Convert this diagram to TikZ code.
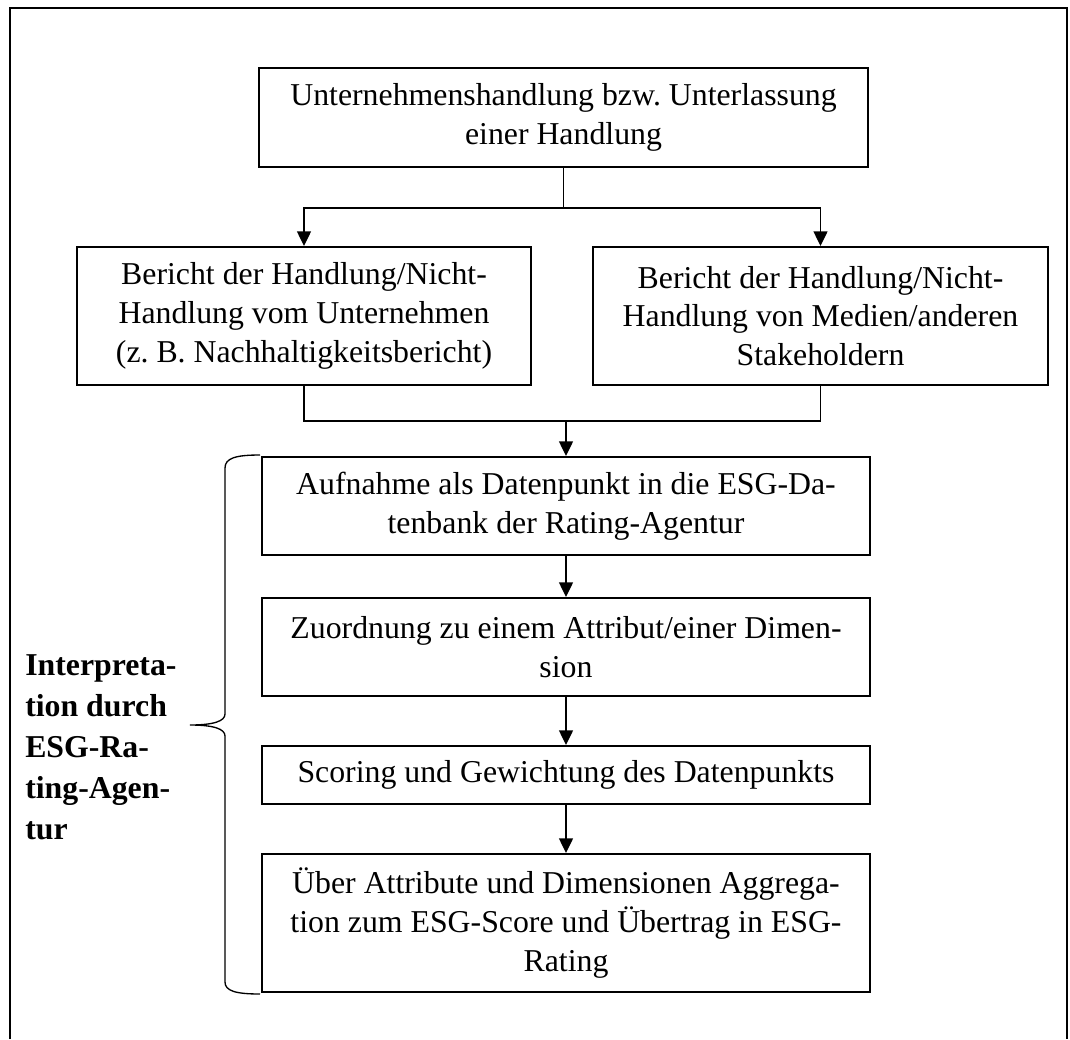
\documentclass[tikz,border=0pt]{standalone}
\usepackage{fontspec}
\setmainfont{Liberation Serif}
\usetikzlibrary{arrows.meta}
\begin{document}
\begin{tikzpicture}[x=0.75pt,y=-0.75pt,
  box/.style={draw, line width=1.5pt, inner sep=0pt, align=center,
    font=\fontsize{23.85}{29}\selectfont\frenchspacing},
  conn/.style={line width=1pt},
  arr/.style={conn, -{Triangle[width=10.5pt,length=11pt]}},
  bracestyle/.style={line width=1pt},
  framestyle/.style={line width=2pt}
]
\useasboundingbox (0,0) rectangle (1070,1039);
\draw[framestyle] (10,1039) -- (10,8) -- (1067,8) -- (1067,1039);

\node[box, minimum width=456.75pt, minimum height=74.25pt] (b1) at (563.5,117.5)
  {Unternehmenshandlung bzw. Unterlassung\\einer Handlung};
\node[box, minimum width=340.5pt, minimum height=103.5pt] (bl) at (304,316)
  {Bericht der Handlung/Nicht-\\Handlung vom Unternehmen\\(z. B. Nachhaltigkeitsbericht)};
\node[box, minimum width=341.25pt, minimum height=103.5pt] (br) at (820.5,316)
  {Bericht der Handlung/Nicht-\\Handlung von Medien/anderen\\Stakeholdern};
\node[box, minimum width=456pt, minimum height=73.5pt] (a1) at (566,506)
  {Aufnahme als Datenpunkt in die ESG-Da-\\tenbank der Rating-Agentur};
\node[box, minimum width=456pt, minimum height=73.5pt] (a2) at (566,647)
  {Zuordnung zu einem Attribut/einer Dimen-\\sion};
\node[box, minimum width=456pt, minimum height=43.5pt] (a3) at (566,775)
  {Scoring und Gewichtung des Datenpunkts};
\node[box, minimum width=456pt, minimum height=103.5pt] (a4) at (566,923)
  {Über Attribute und Dimensionen Aggrega-\\tion zum ESG-Score und Übertrag in ESG-\\Rating};

\coordinate (split) at (563.5,208);
\draw[conn] (b1.south) -- (split);
\draw[arr] (split) -| (bl.north);
\draw[arr] (split) -| (br.north);
\coordinate (join) at (566,421);
\draw[conn] (bl.south) |- (join);
\draw[conn] (br.south) |- (join);
\draw[arr] (join) -- (a1.north);
\draw[arr] (a1) -- (a2);
\draw[arr] (a2) -- (a3);
\draw[arr] (a3) -- (a4);

\coordinate (bt) at (260,455);
\coordinate (bb) at (260,994);
\coordinate (tip) at (190,725);
\draw[bracestyle] (bt) .. controls (236,455) and (225,458) .. (225,468) -- (225,714)
  .. controls (225,721) and (214,725) .. (tip)
  .. controls (214,725) and (225,729) .. (225,736) -- (225,982)
  .. controls (225,991) and (236,994) .. (bb);

\node[anchor=north west, inner sep=0pt, align=left,
  font=\bfseries\fontsize{23.85}{30.75}\selectfont] (lab) at (25,654)
  {Interpreta-\\tion durch\\ESG-Ra-\\ting-Agen-\\tur};
\end{tikzpicture}
\end{document}
